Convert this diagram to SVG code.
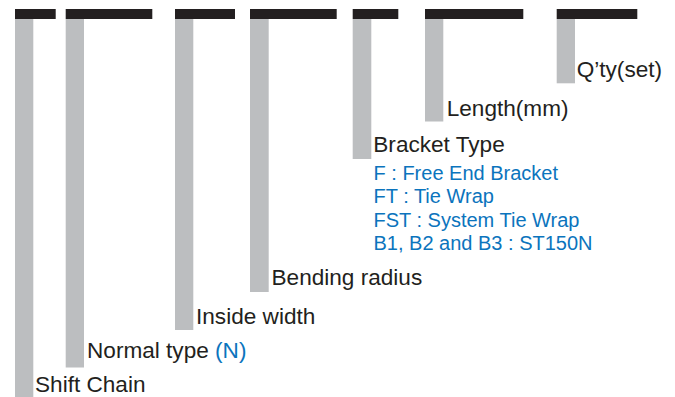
<svg xmlns="http://www.w3.org/2000/svg" width="675" height="397" viewBox="0 0 675 397">
<style>
.cap{fill:#231f20}
.lead{fill:#bcbec0}
.lbl{font-family:"Liberation Sans",Arial,sans-serif;font-size:22.6px;fill:#231f20}
.opt{font-family:"Liberation Sans",Arial,sans-serif;font-size:20px;fill:#0b74bd}
</style>
<rect width="675" height="397" fill="#ffffff"/>
<g id="connectors">
<rect class="lead" x="15" y="19" width="18.3" height="378"/>
<rect class="lead" x="65.7" y="19" width="18.3" height="348.5"/>
<rect class="lead" x="175" y="19" width="18.3" height="311"/>
<rect class="lead" x="250" y="19" width="18.7" height="273"/>
<rect class="lead" x="352.7" y="19" width="18.6" height="140"/>
<rect class="lead" x="425" y="19" width="18.3" height="102.5"/>
<rect class="lead" x="556.7" y="19" width="18.3" height="64.3"/>
</g>
<g id="shift-chain">
<rect class="cap" x="15" y="9" width="40.7" height="10"/>
<text class="lbl" x="35" y="391.5">Shift Chain</text>
</g>
<g id="normal-type">
<rect class="cap" x="65.7" y="9" width="86.6" height="10"/>
<text class="lbl" x="87" y="358.3">Normal type <tspan fill="#0b74bd">(N)</tspan></text>
</g>
<g id="inside-width">
<rect class="cap" x="175" y="9" width="60" height="10"/>
<text class="lbl" x="196" y="324">Inside width</text>
</g>
<g id="bending-radius">
<rect class="cap" x="250" y="9" width="86.7" height="10"/>
<text class="lbl" x="271.5" y="285">Bending radius</text>
</g>
<g id="bracket-type">
<rect class="cap" x="352.7" y="9" width="45.6" height="10"/>
<text class="lbl" x="373.3" y="152.3">Bracket Type</text>
<text class="opt" x="373.5" y="179.5">F : Free End Bracket</text>
<text class="opt" x="373.5" y="203">FT : Tie Wrap</text>
<text class="opt" x="373.5" y="226.7">FST : System Tie Wrap</text>
<text class="opt" x="373.5" y="250.2">B1, B2 and B3 : ST150N</text>
</g>
<g id="length">
<rect class="cap" x="425" y="9" width="98.3" height="10"/>
<text class="lbl" x="446.7" y="115.5">Length(mm)</text>
</g>
<g id="qty">
<rect class="cap" x="556.7" y="9" width="80.6" height="10"/>
<text class="lbl" x="576.7" y="76.7">Q’ty(set)</text>
</g>
</svg>
